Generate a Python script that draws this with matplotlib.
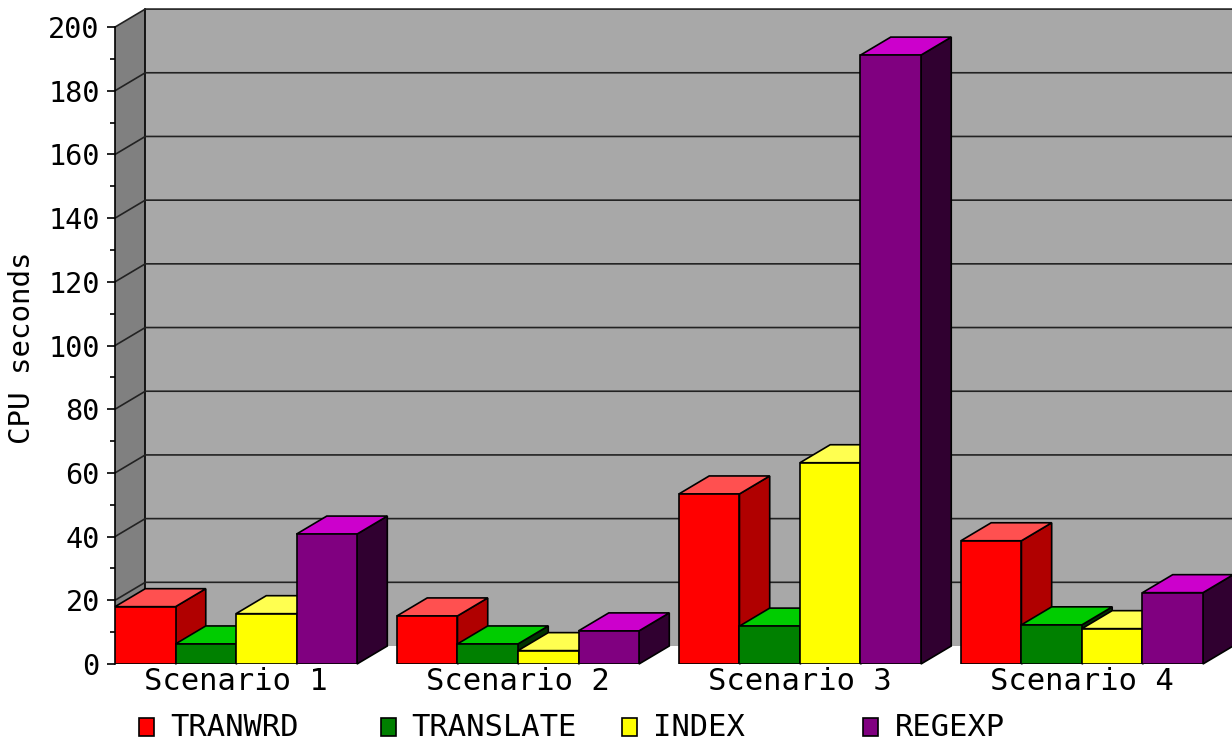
import matplotlib
matplotlib.use("Agg")
import matplotlib.pyplot as plt
from matplotlib.patches import Polygon, Rectangle

# data (CPU seconds)
scenarios = ["Scenario 1", "Scenario 2", "Scenario 3", "Scenario 4"]
series = ["TRANWRD", "TRANSLATE", "INDEX", "REGEXP"]
tranwrd = [18.0, 15.1, 53.4, 38.7]
translate = [6.3, 6.3, 11.9, 12.3]
index = [15.8, 4.2, 63.2, 11.1]
regexp = [40.8, 10.4, 191.2, 22.4]
values = [tranwrd, translate, index, regexp]

# front / top / side shades for each series
front_cols = ["#ff0000", "#008000", "#ffff00", "#800080"]
top_cols = ["#ff5050", "#00cc00", "#ffff50", "#cc00cc"]
side_cols = ["#b00000", "#003300", "#b0b000", "#300030"]

FONT = "DejaVu Sans Mono"
W = 1232
H = 744

# 3d look: bar width 1, depth offset in data units
bw = 1.0
pitch = 4.66
ddx = 0.5
ddy = 5.65
ymax = 200
xmax = 18.46

fig = plt.figure(figsize=(W / 100, H / 100), dpi=100)
ax = fig.add_axes([115 / W, 80 / H, 1117 / W, 664 / H])
ax.set_xlim(0, xmax)
ax.set_ylim(0, 208.5)

# walls
ax.add_patch(Polygon([(ddx, ddy), (xmax + 1, ddy), (xmax + 1, ymax + ddy), (ddx, ymax + ddy)],
                     closed=True, facecolor="#a8a8a8", edgecolor="none", zorder=1, clip_on=False))
ax.add_patch(Polygon([(0, 0), (ddx, ddy), (ddx, ymax + ddy), (0, ymax)],
                     closed=True, facecolor="#808080", edgecolor="none", zorder=1, clip_on=False))
ax.plot([ddx, ddx], [ddy, ymax + ddy], color="black", lw=1.2, zorder=2)
for v in range(20, ymax + 1, 20):
    ax.plot([0, ddx, xmax + 1], [v, v + ddy, v + ddy], color="#222222", lw=1.2,
            zorder=2, clip_on=False)

# bars
x0 = [g * pitch for g in range(len(scenarios))]
allbars = []
for s, vals in enumerate(values):
    xs = [x + s * bw for x in x0]
    bars = ax.bar(xs, vals, width=bw, align="edge", color=front_cols[s],
                  edgecolor="black", linewidth=1.2)
    for b, v, x in zip(bars, vals, xs):
        allbars.append((x, v, s, b))

allbars.sort(key=lambda t: t[0])
for k, (x, v, s, b) in enumerate(allbars):
    z = 10 + 3 * k
    side = Polygon([(x + bw, 0), (x + bw + ddx, ddy), (x + bw + ddx, v + ddy), (x + bw, v)],
                   closed=True, facecolor=side_cols[s], edgecolor="black", lw=1.2, zorder=z,
                   clip_on=False)
    top = Polygon([(x, v), (x + ddx, v + ddy), (x + bw + ddx, v + ddy), (x + bw, v)],
                  closed=True, facecolor=top_cols[s], edgecolor="black", lw=1.2, zorder=z + 1,
                  clip_on=False)
    ax.add_patch(side)
    ax.add_patch(top)
    b.set_zorder(z + 2)

# axes
for sp in ["top", "right", "bottom"]:
    ax.spines[sp].set_visible(False)
ax.spines["left"].set_bounds(0, ymax)
ax.spines["left"].set_linewidth(1.2)
ax.spines["left"].set_zorder(5)
ax.set_yticks(range(0, ymax + 1, 20))
ax.set_yticks(range(10, ymax, 20), minor=True)
ax.tick_params(axis="y", which="major", length=6, width=1.2, pad=5)
ax.tick_params(axis="y", which="minor", length=3.5, width=1.2)
for lab in ax.get_yticklabels():
    lab.set_fontfamily(FONT)
    lab.set_fontsize(20.5)

ax.set_xticks([x + 2 * bw for x in x0])
ax.set_xticklabels(scenarios, fontfamily=FONT, fontsize=22)
ax.tick_params(axis="x", length=0, pad=2)

fig.text(22 / W, 1 - 348 / H, "CPU seconds", rotation=90, ha="center", va="center",
         fontfamily=FONT, fontsize=21)

# legend
for i, name in enumerate(series):
    lx = 139 + i * 241.5
    fig.add_artist(Rectangle((lx / W, 1 - 736 / H), 15 / W, 18 / H, facecolor=front_cols[i],
                             edgecolor="black", lw=1.2, transform=fig.transFigure))
    fig.text((lx + 31) / W, 1 - 727 / H, name, ha="left", va="center",
             fontfamily=FONT, fontsize=22)

fig.savefig("out.png", dpi=100)
